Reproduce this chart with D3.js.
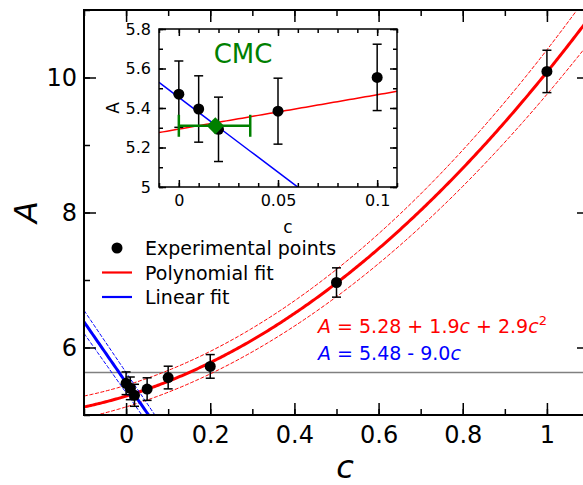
<!DOCTYPE html>
<html>
<head>
<meta charset="utf-8">
<script src="https://cdn.jsdelivr.net/npm/d3@7"></script>
<style>
  body { margin: 0; background: #fff; }
  svg { font-family: "DejaVu Sans", sans-serif; }
</style>
</head>
<body>
<svg id="chart" width="583" height="485"></svg>
<script>
// measured points
const cVals = [0, 0.01, 0.02, 0.05, 0.1, 0.2, 0.5, 1.0];
const aVals = [5.47, 5.395, 5.292, 5.384, 5.555, 5.72, 6.963, 10.09];
const aErr = [0.168, 0.168, 0.163, 0.167, 0.168, 0.175, 0.217, 0.314];

// fit coefficients (A = a0 + a1 c + a2 c^2)
const polyFit = [5.28, 1.9, 2.9];
const polyUpper = [5.44, 1.9, 3.07];
const polyLower = [5.12, 1.9, 2.73];
const linFit = [5.48, -9.0];
const linUpper = [5.63, -9.2];
const linLower = [5.33, -8.8];
const insetPoly = [5.293, 1.74];
const insetLin = [5.454, -7.58];

const cmcC = [0.0184];
const cmcA = [5.31];
const cmcRange = [0, 0.036];
const refLevel = 5.63;

const xTicks = [0, 0.2, 0.4, 0.6, 0.8, 1];
const yTicks = [6, 8, 10];
const insetXTicks = [0, 0.05, 0.1];
const insetYTicks = [5, 5.2, 5.4, 5.6, 5.8];

const legendItems = ["Experimental points", "Polynomial fit", "Linear fit"];

const svg = d3.select("#chart");
const F = "DejaVu Sans";

const evalPoly = (k, c) => k.reduce((s, v, i) => s + v * Math.pow(c, i), 0);

// ---------- main axes ----------
const x = d3.scaleLinear().domain([-0.1, 1.1]).range([84, 589]);
const y = d3.scaleLinear().domain([5, 11]).range([415, 10]);

svg.append("clipPath").attr("id", "mainClip")
  .append("rect").attr("x", 84).attr("y", 10).attr("width", 505).attr("height", 405);

const plot = svg.append("g").attr("clip-path", "url(#mainClip)");
const grid = d3.range(-0.1, 1.1001, 0.004);
const curve = k => d3.line().x(c => x(c)).y(c => y(evalPoly(k, c)))(grid);

plot.append("line").attr("x1", 84).attr("x2", 589)
  .attr("y1", y(refLevel)).attr("y2", y(refLevel))
  .attr("stroke", "#808080").attr("stroke-width", 1.5);

[polyUpper, polyLower].forEach(k => plot.append("path").attr("d", curve(k))
  .attr("fill", "none").attr("stroke", "red").attr("stroke-width", 1).attr("stroke-dasharray", "4,1.6"));
plot.append("path").attr("d", curve(polyFit)).attr("fill", "none").attr("stroke", "red").attr("stroke-width", 3);

[linUpper, linLower].forEach(k => plot.append("path").attr("d", curve(k))
  .attr("fill", "none").attr("stroke", "blue").attr("stroke-width", 1).attr("stroke-dasharray", "4,1.6"));
plot.append("path").attr("d", curve(linFit)).attr("fill", "none").attr("stroke", "blue").attr("stroke-width", 3);

function errorBars(g, xs, ys, cap, r) {
  const pts = g.selectAll(null).data(cVals.map((c, i) => ({c, a: aVals[i], e: aErr[i]}))).enter().append("g");
  pts.append("line").attr("x1", d => xs(d.c)).attr("x2", d => xs(d.c))
    .attr("y1", d => ys(d.a - d.e)).attr("y2", d => ys(d.a + d.e))
    .attr("stroke", "black").attr("stroke-width", 1.5);
  [-1, 1].forEach(s => pts.append("line")
    .attr("x1", d => xs(d.c) - cap).attr("x2", d => xs(d.c) + cap)
    .attr("y1", d => ys(d.a + s * d.e)).attr("y2", d => ys(d.a + s * d.e))
    .attr("stroke", "black").attr("stroke-width", 1.5));
  pts.append("circle").attr("cx", d => xs(d.c)).attr("cy", d => ys(d.a)).attr("r", r).attr("fill", "black");
}
errorBars(plot, x, y, 4.5, 5.5);

// spines + ticks
svg.append("rect").attr("x", 84).attr("y", 10).attr("width", 505).attr("height", 405)
  .attr("fill", "none").attr("stroke", "black").attr("stroke-width", 2);

function ticks(g, axis, tr, fontSize) {
  const a = g.append("g").attr("transform", tr).call(axis);
  a.select(".domain").remove();
  a.selectAll(".tick line").attr("stroke-width", 1.5);
  a.selectAll("text").attr("font-family", F).attr("font-size", fontSize).attr("fill", "black");
  return a;
}
const fmt = d => d3.format("~g")(d);
const xMinor = d3.range(-0.1, 1.11, 0.1).map(v => +v.toFixed(2));
const yMinor = d3.range(5, 11.01, 1);

ticks(svg, d3.axisBottom(x).tickValues(xTicks).tickSize(-12).tickPadding(11).tickFormat(fmt), "translate(0,415)", 24);
ticks(svg, d3.axisBottom(x).tickValues(xMinor).tickSize(-6).tickFormat(""), "translate(0,415)", 24);
ticks(svg, d3.axisTop(x).tickValues(xTicks).tickSize(-12).tickFormat(""), "translate(0,10)", 24);
ticks(svg, d3.axisTop(x).tickValues(xMinor).tickSize(-6).tickFormat(""), "translate(0,10)", 24);
ticks(svg, d3.axisLeft(y).tickValues(yTicks).tickSize(-12).tickPadding(7).tickFormat(fmt), "translate(84,0)", 24);
ticks(svg, d3.axisLeft(y).tickValues(yMinor).tickSize(-6).tickFormat(""), "translate(84,0)", 24);
ticks(svg, d3.axisRight(y).tickValues(yTicks).tickSize(-12).tickFormat(""), "translate(589,0)", 24);
ticks(svg, d3.axisRight(y).tickValues(yMinor).tickSize(-6).tickFormat(""), "translate(589,0)", 24);

svg.append("text").attr("x", 345).attr("y", 478).attr("text-anchor", "middle")
  .attr("font-family", F).attr("font-size", 32).attr("font-style", "italic").text("c");
svg.append("text").attr("transform", "translate(37,212) rotate(-90)").attr("text-anchor", "middle")
  .attr("font-family", F).attr("font-size", 32).attr("font-style", "italic").text("A");

// legend
const leg = svg.append("g").attr("font-family", F).attr("font-size", 19);
legendItems.forEach((t, i) => {
  const ly = 248 + i * 24.5;
  if (i === 0) leg.append("circle").attr("cx", 117).attr("cy", ly).attr("r", 5.5).attr("fill", "black");
  else leg.append("line").attr("x1", 102).attr("x2", 132).attr("y1", ly).attr("y2", ly)
    .attr("stroke", i === 1 ? "red" : "blue").attr("stroke-width", 2.2);
  leg.append("text").attr("x", 145).attr("y", ly + 7).text(t);
});

// equations
const eq1 = svg.append("text").attr("x", 318).attr("y", 333).attr("font-family", F).attr("font-size", 19).attr("fill", "red");
eq1.append("tspan").attr("font-style", "italic").text("A");
eq1.append("tspan").text(" = 5.28 + 1.9");
eq1.append("tspan").attr("font-style", "italic").text("c");
eq1.append("tspan").text(" + 2.9");
eq1.append("tspan").attr("font-style", "italic").text("c");
eq1.append("tspan").attr("font-size", 13).attr("dy", -8).text("2");
const eq2 = svg.append("text").attr("x", 318).attr("y", 360).attr("font-family", F).attr("font-size", 19).attr("fill", "blue");
eq2.append("tspan").attr("font-style", "italic").text("A");
eq2.append("tspan").text(" = 5.48 - 9.0");
eq2.append("tspan").attr("font-style", "italic").text("c");

// ---------- inset ----------
const ix = d3.scaleLinear().domain([-0.01, 0.11]).range([159, 397]);
const iy = d3.scaleLinear().domain([5, 5.8]).range([187, 29]);
svg.append("rect").attr("x", 159).attr("y", 29).attr("width", 238).attr("height", 158).attr("fill", "white");
svg.append("clipPath").attr("id", "insetClip")
  .append("rect").attr("x", 159).attr("y", 29).attr("width", 238).attr("height", 158);
const inset = svg.append("g").attr("clip-path", "url(#insetClip)");
const igrid = d3.range(-0.01, 0.1101, 0.002);
const icurve = k => d3.line().x(c => ix(c)).y(c => iy(evalPoly(k, c)))(igrid);
inset.append("path").attr("d", icurve(insetPoly)).attr("fill", "none").attr("stroke", "red").attr("stroke-width", 1.5);
inset.append("path").attr("d", icurve(insetLin)).attr("fill", "none").attr("stroke", "blue").attr("stroke-width", 1.5);
errorBars(inset, ix, iy, 4.5, 5.5);

// CMC marker with horizontal range
const cg = inset.append("g").attr("stroke", "green").attr("stroke-width", 2.5);
cg.append("line").attr("x1", ix(cmcRange[0])).attr("x2", ix(cmcRange[1]))
  .attr("y1", iy(cmcA[0])).attr("y2", iy(cmcA[0]));
cmcRange.forEach(v => cg.append("line").attr("x1", ix(v)).attr("x2", ix(v))
  .attr("y1", iy(cmcA[0]) - 11).attr("y2", iy(cmcA[0]) + 11));
inset.append("path").attr("d", d3.symbol(d3.symbolDiamond2, 190)())
  .attr("transform", `translate(${ix(cmcC[0])},${iy(cmcA[0])})`).attr("fill", "green");

svg.append("rect").attr("x", 159).attr("y", 29).attr("width", 238).attr("height", 158)
  .attr("fill", "none").attr("stroke", "black").attr("stroke-width", 1.5);

const ixMinor = d3.range(-0.01, 0.111, 0.01).map(v => +v.toFixed(3));
const iyMinor = d3.range(5, 5.81, 0.1).map(v => +v.toFixed(2));
ticks(svg, d3.axisBottom(ix).tickValues(insetXTicks).tickSize(-7).tickPadding(8).tickFormat(fmt), "translate(0,187)", 16);
ticks(svg, d3.axisBottom(ix).tickValues(ixMinor).tickSize(-4).tickFormat(""), "translate(0,187)", 16);
ticks(svg, d3.axisTop(ix).tickValues(insetXTicks).tickSize(-7).tickFormat(""), "translate(0,29)", 16);
ticks(svg, d3.axisTop(ix).tickValues(ixMinor).tickSize(-4).tickFormat(""), "translate(0,29)", 16);
ticks(svg, d3.axisLeft(iy).tickValues(insetYTicks).tickSize(-7).tickPadding(8).tickFormat(fmt), "translate(159,0)", 16);
ticks(svg, d3.axisLeft(iy).tickValues(iyMinor).tickSize(-4).tickFormat(""), "translate(159,0)", 16);
ticks(svg, d3.axisRight(iy).tickValues(insetYTicks).tickSize(-7).tickFormat(""), "translate(397,0)", 16);
ticks(svg, d3.axisRight(iy).tickValues(iyMinor).tickSize(-4).tickFormat(""), "translate(397,0)", 16);

svg.append("text").attr("x", 288).attr("y", 233).attr("text-anchor", "middle")
  .attr("font-family", F).attr("font-size", 17).text("c");
svg.append("text").attr("transform", "translate(119,108) rotate(-90)").attr("text-anchor", "middle")
  .attr("font-family", F).attr("font-size", 17).text("A");
svg.append("text").attr("x", 243).attr("y", 63).attr("text-anchor", "middle")
  .attr("font-family", F).attr("font-size", 26).attr("fill", "green").text("CMC");
</script>
</body>
</html>
